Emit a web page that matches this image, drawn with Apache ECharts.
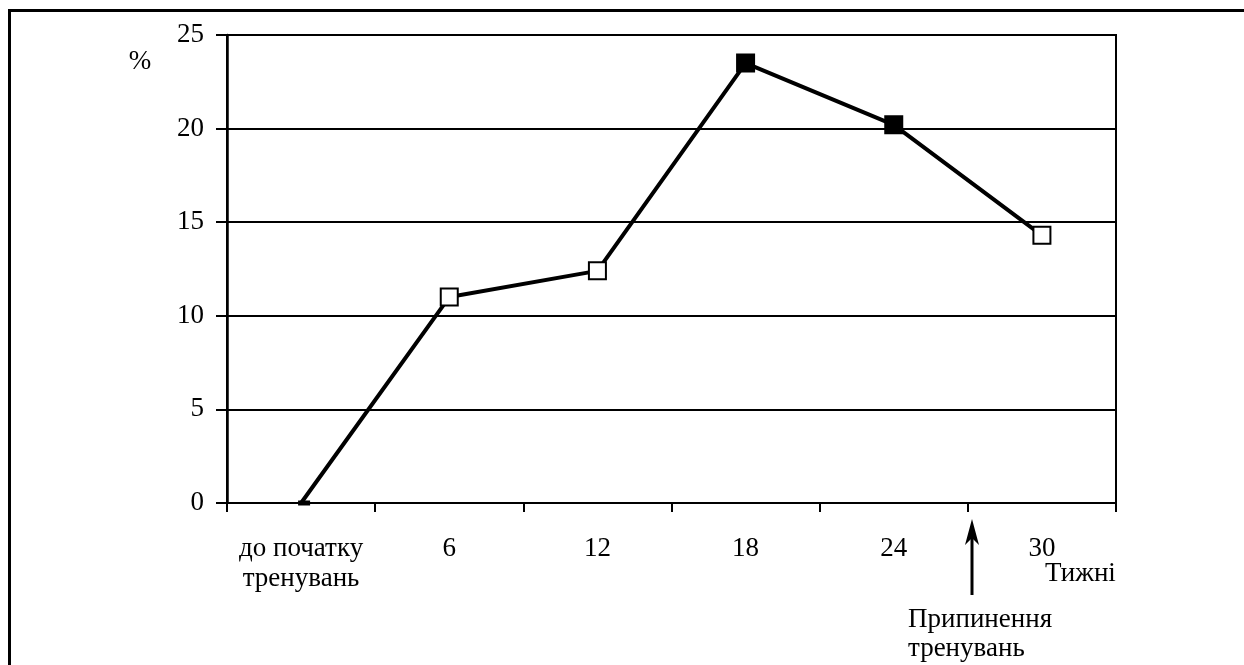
<!DOCTYPE html>
<html>
<head>
<meta charset="utf-8">
<script src="https://cdn.jsdelivr.net/npm/echarts@6/dist/echarts.min.js"></script>
<style>
  html, body { margin: 0; padding: 0; background: #fff; }
  #chart { width: 1244px; height: 665px; }
</style>
</head>
<body>
<div id="chart"></div>
<script>
// Weeks of the training programme
const weeks = ['до початку\nтренувань', '6', '12', '18', '24', '30'];
// Change, %
const changePct = [0, 11.0, 12.4, 23.5, 20.2, 14.3];
// Y axis ticks
const yTicks = [0, 5, 10, 15, 20, 25];

const FONT = '"Liberation Serif", "DejaVu Serif", serif';
const FS = 27;
// Weeks drawn with solid markers (training period peak)
const solidWeeks = ['18', '24'];

const chart = echarts.init(document.getElementById('chart'), null, { renderer: 'canvas' });

const seriesData = changePct.map((v, i) => {
  const wk = weeks[i];
  if (i === 0) {
    // baseline point: a flat marker sitting on the axis
    return {
      value: v,
      symbol: 'rect',
      symbolSize: [12, 5],
      symbolOffset: [3, 0],
      itemStyle: { color: '#000', borderWidth: 0 }
    };
  }
  const solid = solidWeeks.includes(wk);
  return {
    value: v,
    itemStyle: { color: solid ? '#000' : '#fff', borderColor: '#000', borderWidth: 2 }
  };
});

chart.setOption({
  animation: false,
  backgroundColor: '#fff',
  textStyle: { fontFamily: FONT },
  grid: {
    left: 227, right: 128, top: 35, bottom: 162,
    show: true, borderColor: '#000', borderWidth: 2, backgroundColor: 'transparent'
  },
  xAxis: {
    type: 'category',
    data: weeks,
    boundaryGap: true,
    axisLine: { lineStyle: { color: '#000', width: 2 } },
    axisTick: { show: true, interval: 0, length: 9, inside: false, lineStyle: { color: '#000', width: 2 } },
    axisLabel: {
      interval: 0, hideOverlap: false,
      color: '#000', fontFamily: FONT, fontSize: FS, margin: 31, lineHeight: 30,
      verticalAlign: 'top'
    },
    splitLine: { show: false }
  },
  yAxis: {
    type: 'value',
    min: yTicks[0],
    max: yTicks[yTicks.length - 1],
    interval: yTicks[1] - yTicks[0],
    axisLine: { show: true, lineStyle: { color: '#000', width: 2.5 } },
    axisTick: { show: true, length: 11, lineStyle: { color: '#000', width: 2 } },
    axisLabel: { color: '#000', fontFamily: FONT, fontSize: FS, margin: 23, padding: [4, 0, 0, 0] },
    splitLine: { show: true, lineStyle: { color: '#000', width: 2 } }
  },
  series: [{
    type: 'line',
    data: seriesData,
    symbol: 'rect',
    symbolSize: 17,
    showAllSymbol: true,
    lineStyle: { color: '#000', width: 4 },
    itemStyle: { color: '#fff', borderColor: '#000', borderWidth: 2 },
    z: 3
  }],
  graphic: [
    // outer frame (top and left edges)
    {
      type: 'polyline',
      shape: { points: [[9.5, 665], [9.5, 10.5], [1244, 10.5]] },
      style: { stroke: '#000', lineWidth: 3, fill: null }
    },
    {
      type: 'text', x: 140, y: 62,
      style: { text: '%', font: FS + 'px ' + FONT, fill: '#000', align: 'center', verticalAlign: 'middle' }
    },
    {
      type: 'text', x: 1045, y: 574,
      style: { text: 'Тижні', font: FS + 'px ' + FONT, fill: '#000', align: 'left', verticalAlign: 'middle' }
    },
    // arrow marking the end of training
    {
      type: 'line',
      shape: { x1: 972, y1: 595, x2: 972, y2: 535 },
      style: { stroke: '#000', lineWidth: 3 }
    },
    {
      type: 'polygon',
      shape: { points: [[972, 519], [965, 545], [972, 538], [979, 545]] },
      style: { fill: '#000' }
    },
    {
      type: 'text', x: 908, y: 620,
      style: { text: 'Припинення', font: FS + 'px ' + FONT, fill: '#000', align: 'left', verticalAlign: 'middle' }
    },
    {
      type: 'text', x: 908, y: 649,
      style: { text: 'тренувань', font: FS + 'px ' + FONT, fill: '#000', align: 'left', verticalAlign: 'middle' }
    }
  ]
});
</script>
</body>
</html>
